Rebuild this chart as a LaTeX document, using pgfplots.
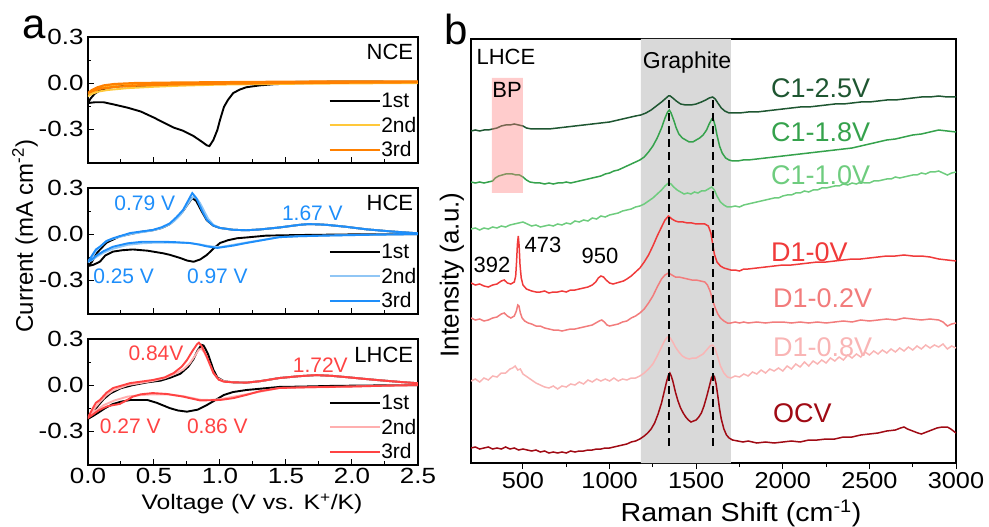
\documentclass[border=0pt]{standalone}
\usepackage{pgfplots}
\pgfplotsset{compat=1.18}
\usepackage{fontspec}
\setmainfont{Liberation Sans}
\newfontfamily\wfont[FakeStretch=1.18]{Liberation Sans}
\newfontfamily\vfont[FakeStretch=1.1]{Liberation Sans}
\newcommand{\fs}[1]{\fontsize{#1}{#1}\selectfont}
\definecolor{ncetwo}{HTML}{FFC83A}
\definecolor{ncethree}{HTML}{FF8000}
\definecolor{hcetwo}{HTML}{90C6F5}
\definecolor{hcethree}{HTML}{1E8EFA}
\definecolor{lhcetwo}{HTML}{FFAFAF}
\definecolor{lhcethree}{HTML}{FF4343}
\definecolor{cA}{HTML}{1E5631}
\definecolor{cB}{HTML}{35A24C}
\definecolor{cC}{HTML}{6ECC7E}
\definecolor{dA}{HTML}{F03A3A}
\definecolor{dB}{HTML}{F27C7C}
\definecolor{dC}{HTML}{F9B5B5}
\definecolor{ocv}{HTML}{A00A14}
\definecolor{graybg}{HTML}{D9D9D9}
\pgfplotsset{
  cvaxis/.style={scale only axis, width=330pt, height=126pt,
    xmin=0, xmax=2.5, ymin=-0.52, ymax=0.3,
    axis line style={line width=1.3pt},
    tick style={line width=1pt, black},
    tick align=inside, tick pos=left,
    major tick length=6pt, minor tick length=3.5pt,
    xtick={0,0.5,1,1.5,2,2.5}, minor x tick num=1,
    ytick={-0.3,0,0.3}, yticklabels={-0.3,0.0,0.3}, minor y tick num=1,
    tick label style={font=\wfont\fs{22}},
    yticklabel style={xshift=-1pt},
    every axis plot/.append style={line width=1.9pt},
    legend style={draw=none, fill=none, at={(1,0)}, anchor=south east, xshift=-1pt, yshift=4pt,
      font=\fs{21}, row sep=7pt, inner sep=0pt, nodes={inner sep=0.5pt}, cells={anchor=west}},
    legend image code/.code={\draw[##1] (0pt,0pt) -- (50pt,0pt);},
  }
}
\begin{document}
\begin{tikzpicture}[x=1pt,y=1pt]
\useasboundingbox (0pt,0pt) rectangle (989pt,527pt);
% ---------- NCE ----------
\begin{axis}[cvaxis, at={(88pt,490pt)}, anchor=north west, xticklabels={}]
\addplot[black] coordinates {(2.5,0.005) (2.0,0.003) (1.6,0.0) (1.4,-0.008) (1.3,-0.015) (1.2,-0.027) (1.15,-0.042) (1.10,-0.065) (1.06,-0.11) (1.03,-0.155) (1.0,-0.24) (0.98,-0.305) (0.95,-0.37) (0.92,-0.41) (0.90,-0.405) (0.86,-0.38) (0.80,-0.345) (0.72,-0.31) (0.65,-0.29) (0.58,-0.26) (0.50,-0.225) (0.40,-0.185) (0.30,-0.16) (0.20,-0.14) (0.12,-0.125) (0.05,-0.125) (0.0,-0.13) (0.02,-0.10) (0.05,-0.07) (0.09,-0.047) (0.15,-0.03) (0.25,-0.02) (0.4,-0.017) (0.6,-0.012) (0.8,-0.008) (1.0,-0.003) (1.3,0.002) (1.6,0.008) (2.0,0.01) (2.5,0.008)};
\addlegendentry{1st}
\addplot[ncetwo] coordinates {(2.5,0.0) (2.0,-0.002) (1.5,-0.005) (1.0,-0.01) (0.7,-0.017) (0.5,-0.024) (0.3,-0.033) (0.15,-0.045) (0.08,-0.055) (0.03,-0.07) (0.0,-0.085) (0.03,-0.06) (0.07,-0.04) (0.12,-0.025) (0.2,-0.012) (0.35,-0.005) (0.6,0.0) (1.0,0.004) (1.5,0.007) (2.0,0.009) (2.5,0.008)};
\addlegendentry{2nd}
\addplot[ncethree, line width=2.2pt] coordinates {(2.5,0.005) (2.0,0.003) (1.5,0.0) (1.0,-0.004) (0.6,-0.01) (0.35,-0.017) (0.2,-0.025) (0.1,-0.036) (0.04,-0.05) (0.0,-0.065) (0.03,-0.045) (0.07,-0.028) (0.12,-0.015) (0.2,-0.006) (0.35,0.0) (0.6,0.003) (1.0,0.006) (1.5,0.009) (2.0,0.011) (2.5,0.01)};
\addlegendentry{3rd}
\node[anchor=east, font=\fs{22}] at (axis cs:2.49,0.2) {NCE};
\end{axis}
% ---------- HCE ----------
\begin{axis}[cvaxis, at={(88pt,339pt)}, anchor=north west, xticklabels={}]
\addplot[black] coordinates {(2.5,0.0) (2.0,-0.002) (1.6,-0.006) (1.35,-0.01) (1.2,-0.022) (1.13,-0.027) (1.06,-0.04) (1.0,-0.058) (0.95,-0.095) (0.90,-0.136) (0.85,-0.165) (0.80,-0.18) (0.75,-0.172) (0.70,-0.156) (0.62,-0.135) (0.57,-0.125) (0.45,-0.108) (0.34,-0.10) (0.26,-0.105) (0.19,-0.114) (0.13,-0.14) (0.09,-0.18) (0.04,-0.2) (0.0,-0.208) (0.03,-0.18) (0.07,-0.12) (0.14,-0.056) (0.24,-0.015) (0.39,0.013) (0.49,0.025) (0.56,0.04) (0.62,0.065) (0.68,0.11) (0.72,0.15) (0.76,0.2) (0.79,0.235) (0.82,0.215) (0.86,0.15) (0.90,0.09) (0.95,0.055) (1.0,0.04) (1.1,0.028) (1.2,0.025) (1.3,0.03) (1.45,0.043) (1.6,0.06) (1.67,0.065) (1.75,0.063) (1.81,0.06) (1.95,0.048) (2.11,0.031) (2.3,0.017) (2.5,0.005)};
\addlegendentry{1st}
\addplot[hcetwo] coordinates {(2.5,0.0) (2.1,-0.005) (1.8,-0.01) (1.6,-0.014) (1.45,-0.02) (1.2,-0.055) (1.0,-0.085) (0.93,-0.08) (0.85,-0.068) (0.77,-0.058) (0.6,-0.055) (0.5,-0.056) (0.41,-0.06) (0.3,-0.07) (0.19,-0.095) (0.12,-0.12) (0.07,-0.145) (0.03,-0.17) (0.0,-0.18) (0.03,-0.15) (0.06,-0.11) (0.09,-0.085) (0.14,-0.045) (0.19,-0.03) (0.32,0.0) (0.49,0.024) (0.56,0.04) (0.62,0.065) (0.66,0.09) (0.70,0.125) (0.74,0.175) (0.77,0.215) (0.795,0.24) (0.81,0.242) (0.83,0.225) (0.85,0.2) (0.88,0.15) (0.91,0.1) (0.95,0.06) (1.0,0.04) (1.1,0.028) (1.2,0.025) (1.3,0.03) (1.45,0.043) (1.6,0.06) (1.67,0.065) (1.75,0.063) (1.81,0.06) (1.95,0.048) (2.11,0.031) (2.3,0.017) (2.5,0.005)};
\addlegendentry{2nd}
\addplot[hcethree] coordinates {(2.5,0.0) (2.1,-0.005) (1.8,-0.01) (1.6,-0.014) (1.45,-0.02) (1.2,-0.058) (1.1,-0.075) (0.98,-0.09) (0.9,-0.08) (0.84,-0.068) (0.77,-0.058) (0.65,-0.052) (0.57,-0.05) (0.41,-0.05) (0.3,-0.06) (0.19,-0.082) (0.12,-0.11) (0.07,-0.136) (0.03,-0.165) (0.0,-0.18) (0.03,-0.14) (0.06,-0.1) (0.09,-0.082) (0.14,-0.045) (0.19,-0.027) (0.32,0.007) (0.49,0.027) (0.56,0.045) (0.62,0.07) (0.67,0.11) (0.72,0.157) (0.76,0.22) (0.79,0.267) (0.82,0.235) (0.86,0.16) (0.90,0.092) (0.95,0.055) (1.0,0.04) (1.1,0.028) (1.2,0.025) (1.3,0.03) (1.45,0.043) (1.6,0.06) (1.67,0.065) (1.75,0.063) (1.81,0.06) (1.95,0.048) (2.11,0.031) (2.3,0.017) (2.5,0.005)};
\addlegendentry{3rd}
\node[anchor=east, font=\fs{22}] at (axis cs:2.49,0.2) {HCE};
\node[font=\fs{21}, text=hcethree] at (axis cs:0.43,0.202) {0.79 V};
\node[font=\fs{21}, text=hcethree] at (axis cs:1.70,0.137) {1.67 V};
\node[font=\fs{21}, text=hcethree] at (axis cs:0.27,-0.273) {0.25 V};
\node[font=\fs{21}, text=hcethree] at (axis cs:0.98,-0.273) {0.97 V};
\end{axis}
% ---------- LHCE ----------
\begin{axis}[cvaxis, at={(88pt,188pt)}, anchor=north west, xticklabels={0.0,0.5,1.0,1.5,2.0,2.5}]
\addplot[black] coordinates {(2.5,0.0) (2.2,-0.002) (1.86,-0.005) (1.6,-0.01) (1.45,-0.012) (1.2,-0.032) (1.1,-0.045) (1.03,-0.064) (0.96,-0.1) (0.9,-0.13) (0.83,-0.16) (0.75,-0.173) (0.68,-0.165) (0.62,-0.15) (0.52,-0.115) (0.45,-0.097) (0.32,-0.097) (0.25,-0.108) (0.19,-0.123) (0.13,-0.15) (0.09,-0.173) (0.04,-0.2) (0.0,-0.22) (0.03,-0.19) (0.07,-0.14) (0.12,-0.09) (0.17,-0.054) (0.25,-0.02) (0.34,0.0) (0.45,0.018) (0.55,0.029) (0.63,0.05) (0.70,0.074) (0.76,0.12) (0.80,0.17) (0.83,0.225) (0.86,0.262) (0.875,0.258) (0.89,0.235) (0.91,0.2) (0.93,0.15) (0.95,0.1) (0.98,0.05) (1.03,0.025) (1.1,0.018) (1.2,0.016) (1.3,0.025) (1.45,0.046) (1.6,0.058) (1.73,0.065) (1.85,0.06) (1.98,0.05) (2.1,0.04) (2.23,0.03) (2.37,0.02) (2.5,0.012)};
\addlegendentry{1st}
\addplot[lhcetwo] coordinates {(2.5,0.0) (2.2,-0.005) (1.98,-0.01) (1.7,-0.015) (1.45,-0.019) (1.2,-0.06) (1.0,-0.092) (0.92,-0.097) (0.85,-0.095) (0.72,-0.072) (0.6,-0.06) (0.49,-0.06) (0.4,-0.065) (0.3,-0.075) (0.2,-0.1) (0.12,-0.13) (0.06,-0.165) (0.0,-0.21) (0.04,-0.16) (0.09,-0.11) (0.14,-0.065) (0.19,-0.035) (0.3,0.0) (0.49,0.027) (0.58,0.045) (0.65,0.07) (0.72,0.1) (0.77,0.14) (0.81,0.19) (0.84,0.232) (0.86,0.235) (0.88,0.215) (0.91,0.16) (0.95,0.08) (0.98,0.045) (1.03,0.025) (1.1,0.018) (1.2,0.016) (1.3,0.025) (1.45,0.046) (1.6,0.058) (1.73,0.065) (1.85,0.06) (1.98,0.05) (2.1,0.04) (2.23,0.03) (2.37,0.02) (2.5,0.012)};
\addlegendentry{2nd}
\addplot[lhcethree] coordinates {(2.5,0.0) (2.2,-0.005) (1.98,-0.01) (1.7,-0.013) (1.45,-0.019) (1.3,-0.04) (1.2,-0.064) (1.1,-0.085) (1.0,-0.097) (0.85,-0.1) (0.72,-0.075) (0.6,-0.058) (0.49,-0.052) (0.4,-0.06) (0.34,-0.075) (0.28,-0.105) (0.24,-0.123) (0.18,-0.132) (0.14,-0.14) (0.08,-0.165) (0.04,-0.19) (0.0,-0.214) (0.03,-0.16) (0.06,-0.115) (0.09,-0.097) (0.14,-0.05) (0.19,-0.019) (0.32,0.013) (0.49,0.033) (0.58,0.05) (0.65,0.079) (0.71,0.12) (0.75,0.163) (0.79,0.22) (0.825,0.265) (0.84,0.276) (0.86,0.255) (0.90,0.185) (0.95,0.079) (0.99,0.035) (1.03,0.022) (1.1,0.018) (1.2,0.016) (1.3,0.025) (1.45,0.046) (1.6,0.058) (1.73,0.065) (1.85,0.06) (1.98,0.05) (2.1,0.04) (2.23,0.03) (2.37,0.02) (2.5,0.012)};
\addlegendentry{3rd}
\node[anchor=east, font=\fs{22}] at (axis cs:2.49,0.196) {LHCE};
\node[font=\fs{21}, text=lhcethree] at (axis cs:0.515,0.209) {0.84V};
\node[font=\fs{21}, text=lhcethree] at (axis cs:1.76,0.131) {1.72V};
\node[font=\fs{21}, text=lhcethree] at (axis cs:0.32,-0.266) {0.27 V};
\node[font=\fs{21}, text=lhcethree] at (axis cs:0.98,-0.266) {0.86 V};
\end{axis}
\node[font=\fs{24}, rotate=90] at (25pt,291pt) {Current (mA cm\textsuperscript{-2})};
\node[font=\wfont\fs{21}] at (252pt,23pt) {Voltage (V vs. K\textsuperscript{+}/K)};
\node[font=\fs{42}, anchor=base west] at (19pt,488.5pt) {a};
\node[font=\fs{42}, anchor=base west] at (441pt,482pt) {b};
% ---------- Raman ----------
\begin{axis}[scale only axis, width=485pt, height=424pt, at={(471pt,488pt)}, anchor=north west,
  xmin=200, xmax=3000, ymin=39, ymax=463, y dir=reverse,
  axis line style={line width=1.3pt}, tick style={line width=1pt, black},
  tick align=outside, xtick pos=lower, ytick=\empty,
  xtick={500,1000,1500,2000,2500,3000}, xticklabels={500,1000,1500,2000,2500,3000}, minor x tick num=1,
  major tick length=6pt, minor tick length=4pt,
  tick label style={font=\vfont\fs{23}},
  every axis plot/.append style={line width=1.5pt}]
\addplot[fill=graybg, draw=none] coordinates {(1180,39) (1700,39) (1700,463) (1180,463) (1180,39)};
\addplot[ocv] coordinates {(200,448) (225,447) (250,449) (275,448) (300,447) (325,449) (350,448) (375,449) (400,447) (425,449) (450,448) (475,450) (500,449) (525,450) (550,451) (575,450) (600,452) (625,451) (650,453) (675,452) (700,453) (725,452) (750,453) (775,451) (800,452) (825,451) (850,451) (875,450) (900,450) (925,449) (950,449) (975,448) (1000,448) (1025,447) (1050,446) (1075,445) (1100,444) (1125,442) (1150,441) (1175,439) (1200,436) (1220,433) (1240,429) (1260,423) (1280,414) (1300,403) (1315,392) (1330,381) (1340,375) (1348,373) (1356,376) (1365,381) (1380,392) (1395,401) (1410,408) (1425,413) (1440,417) (1455,420) (1470,422) (1485,421) (1500,420) (1515,417) (1530,413) (1545,406) (1560,397) (1575,387) (1588,378) (1598,375) (1606,377) (1615,384) (1625,396) (1635,409) (1645,419) (1660,429) (1675,435) (1690,438) (1710,440) (1740,441) (1770,442) (1800,441) (1850,443) (1900,442) (1950,443) (2000,442) (2050,441) (2100,442) (2150,440) (2200,440) (2250,439) (2300,439) (2350,437) (2400,437) (2450,435) (2500,434) (2550,433) (2600,431) (2650,430) (2680,428) (2700,427) (2720,429) (2750,431) (2780,433) (2800,434) (2830,432) (2860,430) (2890,428) (2920,427) (2950,427) (2970,429) (3000,433)};
\addplot[dC] coordinates {(200,381) (225,379) (250,382) (275,378) (300,380) (325,376) (350,377) (375,373) (400,373) (425,369) (440,368) (455,366) (470,370) (485,369) (500,374) (525,377) (550,380) (575,383) (600,385) (625,387) (650,388) (675,386) (700,389) (725,386) (750,387) (775,384) (800,385) (825,382) (850,384) (875,380) (900,382) (925,379) (950,381) (975,379) (1000,381) (1025,378) (1050,381) (1075,379) (1100,380) (1125,378) (1150,378) (1175,376) (1200,373) (1225,369) (1250,364) (1275,356) (1300,347) (1320,340) (1335,337) (1350,338) (1365,342) (1380,347) (1400,352) (1420,356) (1440,358) (1460,359) (1480,358) (1500,358) (1520,356) (1540,354) (1560,350) (1580,346) (1595,345) (1610,349) (1625,357) (1640,366) (1660,373) (1680,377) (1700,378) (1725,376) (1750,377) (1775,374) (1800,376) (1825,372) (1850,374) (1875,370) (1900,373) (1925,369) (1950,371) (1975,368) (2000,371) (2025,366) (2050,369) (2075,364) (2100,367) (2125,362) (2150,366) (2175,361) (2200,364) (2225,360) (2250,363) (2275,358) (2300,361) (2325,357) (2350,360) (2375,355) (2400,358) (2425,354) (2450,357) (2475,352) (2500,355) (2525,351) (2550,354) (2575,350) (2600,353) (2625,349) (2650,352) (2675,348) (2700,351) (2725,347) (2750,350) (2775,346) (2800,349) (2825,345) (2850,348) (2875,345) (2900,347) (2925,344) (2950,349) (2975,346) (3000,348)};
\addplot[dB] coordinates {(200,318) (225,320) (250,319) (275,321) (300,320) (325,318) (350,317) (375,314) (392,313) (410,316) (430,318) (450,316) (462,311) (470,305) (477,306) (485,313) (495,318) (510,321) (530,323) (550,324) (575,326) (600,326) (625,328) (650,329) (675,330) (700,330) (725,331) (750,330) (775,329) (800,329) (825,328) (850,327) (875,326) (900,325) (920,323) (940,321) (955,320) (970,322) (985,325) (1000,326) (1025,325) (1050,324) (1075,322) (1100,321) (1125,318) (1150,316) (1175,313) (1200,309) (1225,303) (1250,296) (1275,287) (1300,279) (1320,275) (1340,273) (1360,275) (1380,277) (1400,277) (1425,278) (1450,279) (1475,280) (1500,280) (1525,281) (1550,282) (1565,285) (1580,291) (1595,300) (1610,308) (1625,314) (1640,318) (1660,321) (1680,323) (1700,323) (1725,322) (1750,323) (1775,322) (1800,323) (1850,322) (1900,323) (1950,322) (2000,322) (2050,323) (2100,322) (2150,323) (2200,322) (2250,323) (2300,322) (2350,321) (2400,322) (2450,320) (2500,321) (2550,320) (2600,319) (2650,320) (2700,318) (2750,319) (2800,320) (2850,319) (2900,320) (2925,322) (2950,326) (2975,324) (3000,323)};
\addplot[dA] coordinates {(200,283) (225,285) (250,284) (275,286) (300,287) (325,285) (350,284) (375,281) (392,280) (410,283) (430,284) (450,282) (458,276) (463,262) (468,244) (473,236) (478,246) (483,265) (490,278) (500,285) (520,289) (550,291) (575,292) (600,292) (625,291) (650,293) (675,292) (700,292) (725,291) (750,292) (775,290) (800,290) (825,289) (850,288) (875,287) (900,285) (920,282) (935,278) (950,276) (965,277) (980,280) (1000,283) (1020,284) (1040,283) (1060,282) (1080,281) (1100,279) (1125,276) (1150,272) (1175,268) (1200,262) (1225,255) (1250,246) (1275,236) (1300,227) (1320,220) (1340,216) (1360,219) (1380,221) (1400,222) (1425,222) (1450,223) (1475,223) (1500,224) (1525,224) (1550,224) (1570,226) (1585,233) (1595,244) (1605,254) (1620,262) (1640,266) (1660,268) (1680,269) (1700,270) (1725,270) (1750,271) (1775,269) (1800,269) (1850,268) (1900,267) (1950,266) (2000,265) (2050,265) (2100,264) (2150,263) (2200,262) (2250,262) (2300,261) (2350,260) (2400,259) (2450,259) (2500,258) (2550,257) (2600,256) (2650,256) (2700,255) (2750,256) (2800,256) (2850,257) (2900,259) (2950,260) (3000,261)};
\addplot[cC] coordinates {(200,229) (225,228) (250,230) (275,228) (300,229) (325,227) (350,228) (375,226) (400,227) (425,225) (450,224) (475,223) (500,222) (525,224) (550,226) (575,225) (600,227) (625,226) (650,225) (675,226) (700,224) (725,225) (750,223) (775,224) (800,221) (825,222) (850,220) (875,221) (900,218) (925,219) (950,216) (975,217) (1000,215) (1025,214) (1050,213) (1075,211) (1100,210) (1125,209) (1150,207) (1175,206) (1200,204) (1225,201) (1250,198) (1275,194) (1300,190) (1320,186) (1340,183) (1355,184) (1370,187) (1390,190) (1410,192) (1430,194) (1450,193) (1470,194) (1490,192) (1510,193) (1530,191) (1550,191) (1570,189) (1590,187) (1605,190) (1620,196) (1640,202) (1660,205) (1680,207) (1700,207) (1725,206) (1750,207) (1775,205) (1800,204) (1825,203) (1850,202) (1875,201) (1900,200) (1925,199) (1950,198) (1975,198) (2000,196) (2025,195) (2050,195) (2075,193) (2100,193) (2125,191) (2150,192) (2175,190) (2200,190) (2225,188) (2250,188) (2275,187) (2300,186) (2325,186) (2350,184) (2375,185) (2400,183) (2425,184) (2450,182) (2475,183) (2500,183) (2525,181) (2550,181) (2575,180) (2600,179) (2625,179) (2650,177) (2675,178) (2700,177) (2725,176) (2750,175) (2775,175) (2800,173) (2825,174) (2850,172) (2875,172) (2900,171) (2925,173) (2950,175) (2975,173) (3000,172)};
\addplot[cB] coordinates {(200,182) (225,183) (250,182) (275,183) (300,182) (325,181) (340,178) (360,176) (380,175) (400,174) (420,174) (440,174) (460,175) (480,175) (500,177) (520,180) (540,182) (575,183) (600,183) (625,184) (650,183) (675,184) (700,183) (725,183) (750,182) (775,183) (800,182) (825,181) (850,180) (875,179) (900,178) (925,177) (950,176) (975,174) (1000,173) (1025,171) (1050,170) (1075,168) (1100,166) (1125,164) (1150,162) (1175,160) (1200,157) (1225,152) (1250,146) (1275,138) (1300,128) (1320,118) (1335,112) (1345,110) (1355,113) (1370,120) (1385,128) (1400,134) (1420,138) (1440,140) (1460,142) (1480,142) (1500,140) (1520,138) (1540,135) (1560,130) (1575,124) (1590,119) (1600,120) (1610,126) (1620,135) (1635,146) (1650,153) (1670,158) (1690,160) (1710,161) (1740,161) (1770,160) (1800,160) (1850,159) (1900,158) (1950,157) (2000,156) (2050,155) (2100,154) (2150,153) (2200,152) (2250,151) (2300,150) (2350,149) (2400,148) (2450,146) (2500,144) (2550,142) (2600,140) (2650,139) (2700,137) (2750,135) (2800,134) (2850,132) (2900,130) (2950,131) (3000,132)};
\addplot[cA] coordinates {(200,131) (225,130) (250,131) (275,130) (300,130) (325,129) (350,128) (375,126) (400,125) (425,125) (450,124) (475,125) (500,126) (520,128) (550,129) (575,129) (600,129) (650,129) (700,128) (750,127) (800,126) (850,125) (900,124) (950,123) (1000,122) (1050,120) (1100,118) (1150,116) (1180,115) (1210,113) (1240,110) (1270,106) (1300,102) (1320,99) (1340,96) (1350,96) (1365,98) (1385,101) (1410,104) (1440,105) (1470,105) (1500,104) (1530,102) (1555,100) (1575,98) (1595,97) (1610,99) (1625,103) (1645,108) (1665,111) (1690,113) (1720,113) (1750,113) (1800,112) (1850,112) (1900,111) (1950,110) (2000,109) (2050,108) (2100,107) (2150,107) (2200,106) (2250,105) (2300,104) (2350,104) (2400,103) (2450,102) (2500,102) (2550,101) (2600,100) (2650,100) (2700,99) (2750,98) (2800,97) (2850,97) (2900,96) (2950,97) (3000,97)};
\addplot[fill=red!50, fill opacity=0.4, draw=none] coordinates {(320,78) (500,78) (500,193) (320,193) (320,78)};
\addplot[black, line width=1.7pt, dash pattern=on 8pt off 5pt] coordinates {(1345,100) (1345,447)};
\addplot[black, line width=1.7pt, dash pattern=on 8pt off 5pt] coordinates {(1597,100) (1597,447)};
\node[anchor=west, font=\fs{22}] at (axis cs:212,57) {LHCE};
\node[font=\fs{22}] at (axis cs:408,90) {BP};
\node[font=\fs{23}] at (axis cs:1447,63) {Graphite};
\node[font=\fs{22}] at (axis cs:321,265) {392};
\node[font=\fs{22}] at (axis cs:616,245) {473};
\node[font=\fs{22}] at (axis cs:945,256) {950};
\node[anchor=west, font=\fs{27}, text=cA] at (axis cs:1912,88) {C1-2.5V};
\node[anchor=west, font=\fs{27}, text=cB] at (axis cs:1912,132) {C1-1.8V};
\node[anchor=west, font=\fs{27}, text=cC] at (axis cs:1912,175) {C1-1.0V};
\node[anchor=west, font=\fs{27}, text=dA] at (axis cs:1912,252) {D1-0V};
\node[anchor=west, font=\fs{27}, text=dB] at (axis cs:1924,298) {D1-0.2V};
\node[anchor=west, font=\fs{27}, text=dC] at (axis cs:1924,347) {D1-0.8V};
\node[anchor=west, font=\fs{27}, text=ocv] at (axis cs:1924,413) {OCV};
\end{axis}
\node[font=\fs{26}, rotate=90] at (452pt,252pt) {Intensity (a.u.)};
\node[font=\vfont\fs{26}] at (741pt,14pt) {Raman Shift (cm\textsuperscript{-1})};
\end{tikzpicture}
\end{document}
